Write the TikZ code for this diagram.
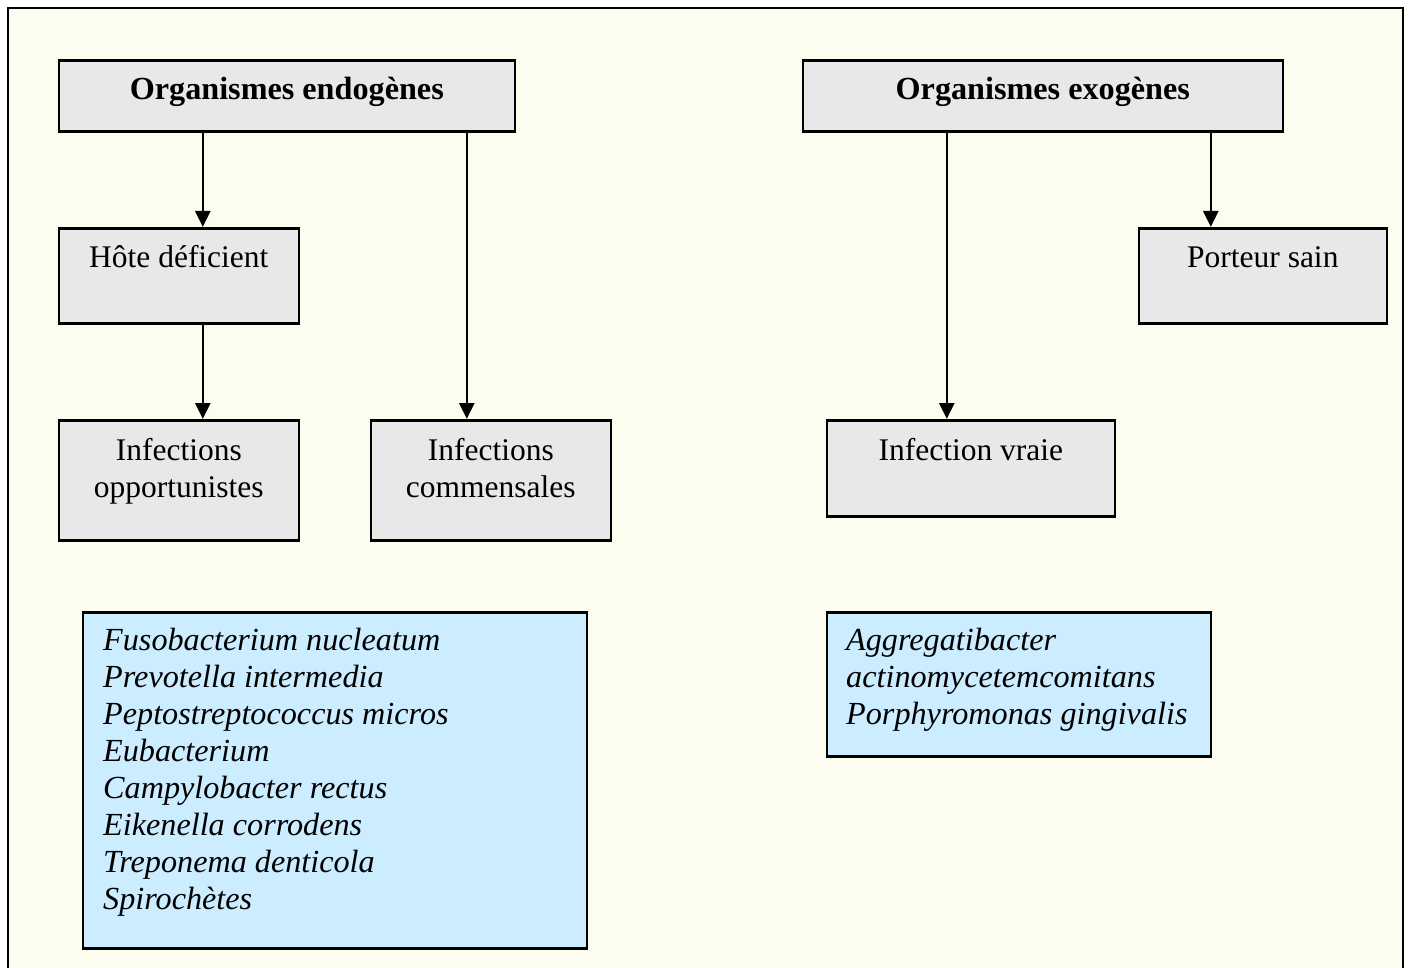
\documentclass[tikz,border=0pt]{standalone}
\usepackage{fontspec}
\setmainfont{Liberation Serif}
\usetikzlibrary{arrows.meta}
\definecolor{paper}{HTML}{FDFDEF}
\definecolor{boxgray}{HTML}{E8E8E8}
\definecolor{boxblue}{HTML}{CCECFF}
\begin{document}
\begin{tikzpicture}[x=1pt,y=-1pt,
  box/.style={draw=black, line width=2.6pt, fill=boxgray, anchor=north west, inner sep=0pt},
  listbox/.style={box, fill=boxblue},
  txt/.style={font=\fontsize{31.5}{37}\selectfont, inner sep=0pt, align=center},
  head/.style={txt, font=\fontsize{32.2}{37}\selectfont\bfseries},
  species/.style={font=\fontsize{32.2}{37}\selectfont\itshape, inner sep=0pt, align=left, anchor=base west},
  arr/.style={line width=2.6pt, -{Triangle[width=15pt,length=16pt]}}]
\useasboundingbox (0,0) rectangle (1410,968);
\fill[white] (0,0) rectangle (1410,968);

% outer frame
\draw[line width=2.8pt, fill=paper] (8,8) rectangle (1403,990);

% headers
\node[box, minimum width=456pt, minimum height=71pt] (endo) at (57.5,59) {};
\node[head, anchor=base] (endoT) at ([yshift=-41pt]endo.north) {Organismes endogènes};
\node[box, minimum width=480pt, minimum height=71pt] (exo) at (801.5,59) {};
\node[head, anchor=base] (exoT) at ([yshift=-41pt]exo.north) {Organismes exogènes};

% second row
\node[box, minimum width=240pt, minimum height=95pt] (hote) at (57.5,227) {};
\node[txt, anchor=base] (hoteT) at ([yshift=-41pt]hote.north) {Hôte déficient};
\node[box, minimum width=248pt, minimum height=95pt] (porteur) at (1137.5,227) {};
\node[txt, anchor=base] (porteurT) at ([yshift=-41pt]porteur.north) {Porteur sain};

% third row
\node[box, minimum width=240pt, minimum height=120pt] (opport) at (57.5,419) {};
\node[txt, anchor=base] (opportA) at ([yshift=-41pt]opport.north) {Infections};
\node[txt, anchor=base] (opportB) at ([yshift=-78pt]opport.north) {opportunistes};
\node[box, minimum width=240pt, minimum height=120pt] (comm) at (369.5,419) {};
\node[txt, anchor=base] (commA) at ([yshift=-41pt]comm.north) {Infections};
\node[txt, anchor=base] (commB) at ([yshift=-78pt]comm.north) {commensales};
\node[box, minimum width=288pt, minimum height=96pt] (vraie) at (825.5,419) {};
\node[txt, anchor=base] (vraieT) at ([yshift=-41pt]vraie.north) {Infection vraie};

% species lists (anchored on the baseline of the last line)
\node[listbox, minimum width=504pt, minimum height=336pt] (listL) at (81.5,611) {};
\node[species] (listLT) at (103,909) {Fusobacterium nucleatum\\Prevotella intermedia\\Peptostreptococcus micros\\Eubacterium\\Campylobacter rectus\\Eikenella corrodens\\Treponema denticola\\Spirochètes};
\node[listbox, minimum width=384pt, minimum height=144pt] (listR) at (825.5,611) {};
\node[species] (listRT) at (846,724) {Aggregatibacter\\actinomycetemcomitans\\Porphyromonas gingivalis};

% connectors
\coordinate (aHote) at ([xshift=24pt]hote.north);
\coordinate (aComm) at ([xshift=-24pt]comm.north);
\coordinate (aVraie) at ([xshift=-24pt]vraie.north);
\coordinate (aPort) at ([xshift=-52pt]porteur.north);
\draw[arr] (endo.south -| aHote) -- (aHote);
\draw[arr] (hote.south -| aHote) -- ([xshift=24pt]opport.north);
\draw[arr] (endo.south -| aComm) -- (aComm);
\draw[arr] (exo.south -| aVraie) -- (aVraie);
\draw[arr] (exo.south -| aPort) -- (aPort);
\end{tikzpicture}
\end{document}
